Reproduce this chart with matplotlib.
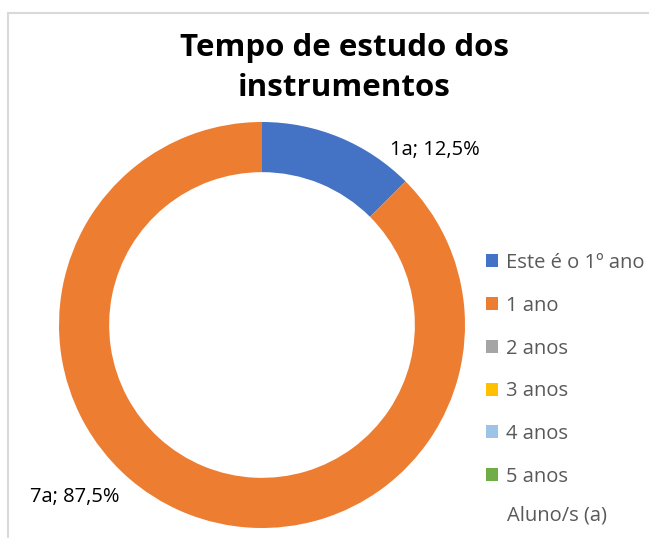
import matplotlib.pyplot as plt
from matplotlib.patches import Patch, Rectangle

plt.rcParams['font.family'] = ['Open Sans', 'DejaVu Sans']

# dados
categorias = ['Este é o 1º ano', '1 ano', '2 anos', '3 anos', '4 anos', '5 anos']
alunos = [1, 7, 0, 0, 0, 0]
cores = ['#4472C4', '#ED7D31', '#A5A5A5', '#FFC000', '#9DC3E6', '#70AD47']
rotulos = ['1a; 12,5%', '7a; 87,5%']

fig = plt.figure(figsize=(6.49, 5.38), dpi=100)
W, H = 649, 538

# moldura do grafico
fig.add_artist(Rectangle((8 / W, -0.1), 2, (H - 13) / H + 0.1, transform=fig.transFigure,
                         fill=False, edgecolor='#d9d9d9', lw=1.5))

ax = fig.add_axes([59 / W, 10 / H, 406 / W, 406 / H])
vals = [v for v in alunos if v > 0]
cs = [c for v, c in zip(alunos, cores) if v > 0]
ax.pie(vals, colors=cs, startangle=90, counterclock=False, radius=1,
       wedgeprops=dict(width=0.247, edgecolor='none'))
ax.set_xlim(-1, 1)
ax.set_ylim(-1, 1)
ax.set_aspect('equal')
ax.axis('off')

ax.text(0.852, 0.862, rotulos[0], ha='center', va='center', fontsize=14.5, color='black')
ax.text(-0.92, -0.847, rotulos[1], ha='center', va='center', fontsize=14.5, color='black')

fig.text(344 / W, 1 - 68 / H, 'Tempo de estudo dos\ninstrumentos', ha='center', va='center',
         fontsize=22.5, fontweight='bold', linespacing=1.4)

handles = [Patch(facecolor=c, edgecolor='none') for c in cores]
fig.legend(handles, categorias, loc='upper left', bbox_to_anchor=(486 / W, 1 - 253 / H),
           frameon=False, fontsize=14.5, labelcolor='#595959', handlelength=0.62,
           handleheight=0.62, handletextpad=0.35, labelspacing=1.13, borderaxespad=0,
           borderpad=0)
fig.text(507 / W, 1 - 515 / H, 'Aluno/s (a)', ha='left', va='center', fontsize=14.5,
         color='#595959')

fig.savefig('out.png', dpi=100)
